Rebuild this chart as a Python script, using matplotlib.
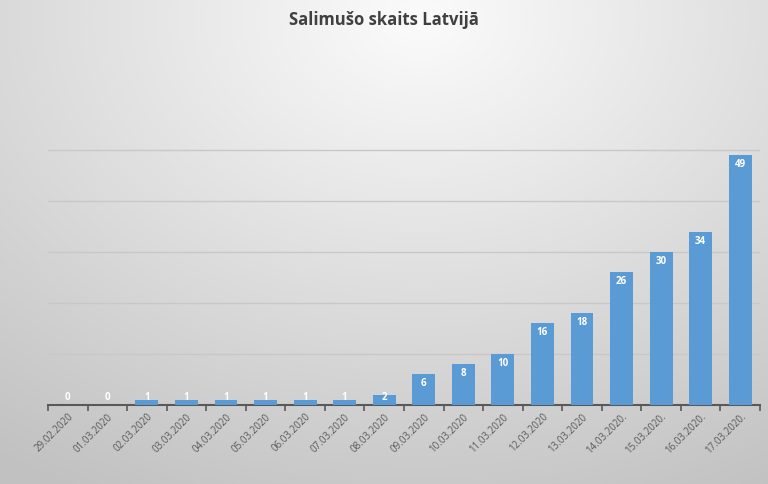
import matplotlib
matplotlib.use("Agg")
import matplotlib.pyplot as plt
import numpy as np

dates = ["29.02.2020", "01.03.2020", "02.03.2020", "03.03.2020", "04.03.2020",
         "05.03.2020", "06.03.2020", "07.03.2020", "08.03.2020", "09.03.2020",
         "10.03.2020", "11.03.2020", "12.03.2020", "13.03.2020", "14.03.2020.",
         "15.03.2020.", "16.03.2020.", "17.03.2020."]
values = [0, 0, 1, 1, 1, 1, 1, 1, 2, 6, 8, 10, 16, 18, 26, 30, 34, 49]
title = "Salimušo skaits Latvijā"

plt.rcParams['font.family'] = ['Open Sans', 'DejaVu Sans']

fig = plt.figure(figsize=(7.68, 4.85), dpi=100)

# background radial gradient
bg = fig.add_axes([0, 0, 1, 1], zorder=-10)
yy, xx = np.mgrid[0:485, 0:768]
d = np.sqrt(((xx - 420) / 700.0) ** 2 + ((yy - 20) / 520.0) ** 2)
g = np.clip(0.985 - 0.22 * d, 0.76, 1.0)
bg.imshow(np.dstack([g, g, g]), extent=[0, 1, 0, 1], aspect='auto', origin='upper')
bg.axis('off')

ax = fig.add_axes([48 / 768, 1 - 406 / 485, 712 / 768, 306 / 485])
ax.patch.set_alpha(0)
x = np.arange(len(values))
bars = ax.bar(x, values, width=0.58, color='#5b9bd5', zorder=3)
ax.set_xlim(-0.5, len(values) - 0.5)
ax.set_ylim(0, 60)
ax.set_yticks([10, 20, 30, 40, 50])
ax.yaxis.grid(True, color='#c8c8c8', linewidth=1, zorder=0)
ax.tick_params(axis='y', length=0, labelleft=False)
for s in ['top', 'right', 'left']:
    ax.spines[s].set_visible(False)
ax.spines['bottom'].set_color('#595959')
ax.spines['bottom'].set_linewidth(1.5)
ax.set_xticks(np.arange(-0.5, len(values) + 0.5, 1), minor=False)
ax.set_xticklabels([])
ax.tick_params(axis='x', which='major', length=4, color='#595959', width=1.2)
ax.set_xticks(x, minor=True)
ax.set_xticklabels(dates, minor=True, rotation=45, ha='right', rotation_mode='anchor',
                   fontsize=7, color='#595959')
ax.tick_params(axis='x', which='minor', length=0, pad=4)

for xi, v in zip(x, values):
    ax.text(xi, max(v, 0) - 0.6 if v >= 3 else 1.6, str(v), ha='center', va='top' if v >= 3 else 'center',
            color='white', fontsize=7, fontweight='bold', zorder=4)

fig.text(0.5, 1 - 20 / 485, title, ha='center', va='center', fontsize=12,
         fontweight='bold', color='#404040')

fig.savefig('out.png', dpi=100)
